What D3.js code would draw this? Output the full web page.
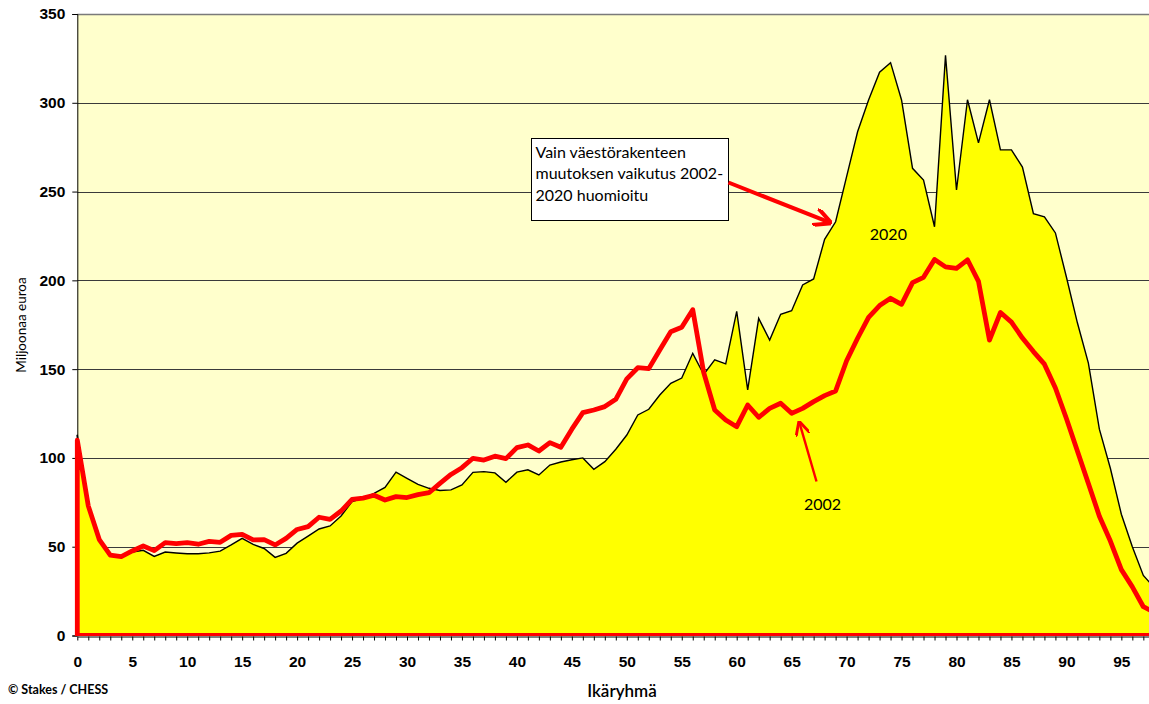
<!DOCTYPE html>
<html>
<head>
<meta charset="utf-8">
<script src="https://cdn.jsdelivr.net/npm/d3@7"></script>
<style>
	body { margin: 0; background: #fff; }
	svg { display: block; font-family: Lato, "Open Sans", sans-serif; }
	.axis text { font-size: 15.5px; font-weight: 700; fill: #000; }
	.axis path, .axis line { stroke: #000; }
</style>
</head>
<body>
<svg id="chart" width="1149" height="704"></svg>
<script>
// age groups (categories)
var ages = [0,1,2,3,4,5,6,7,8,9,10,11,12,13,14,15,16,17,18,19,20,21,22,23,24,25,26,27,28,29,
	30,31,32,33,34,35,36,37,38,39,40,41,42,43,44,45,46,47,48,49,50,51,52,53,54,55,56,57,58,59,
	60,61,62,63,64,65,66,67,68,69,70,71,72,73,74,75,76,77,78,79,80,81,82,83,84,85,86,87,88,89,
	90,91,92,93,94,95,96,97,98];

// 2020 (yellow area), million euro
var values2020 = [113,72,54,45,44,47,48,44.5,47,46.5,46,46,46.5,47.5,51,54.7,51.3,49,44,46.3,
	52,56,60,61.7,67.3,75.4,77.2,80,83.4,92,88.5,85.1,82.9,81.7,82,84.8,91.9,92.3,91.6,86.3,
	92,93.3,90.4,96,97.7,99,100,93.6,97.9,104.9,112.9,124.2,127.4,135.4,142,145,158.9,147,155.2,153,
	182.5,138.3,178.6,166.4,180.9,182.9,197.4,200.8,223.1,233,258.4,283.7,301.6,317.2,322.6,301.6,263.1,256.5,230.2,326.7,
	250.9,301.7,277.4,301.7,273.5,273.5,263.8,237.5,235.8,226.7,201.9,176.1,153.4,116.2,94.2,68.3,50,33.8,27];

// 2002 (red line), million euro
var values2002 = [110,73,54,45.3,44.4,47.6,50.4,47.8,52.3,51.8,52.3,51.4,53,52.5,56.4,57,53.8,54,51,54.7,
	59.7,61.3,66.6,65.4,70.1,76.7,77.4,79,76.3,78.2,77.7,79.3,80.4,85.7,90.7,94.5,99.8,98.8,101,99.6,
	105.8,107.3,103.9,108.6,106,116.2,125.5,127,128.9,133,144.5,150.8,150.3,160.8,171.1,173.6,183.5,148,127,121.4,
	117.6,129.8,122.9,127.9,130.8,125.1,127.9,131.7,135.1,137.7,154.7,167.4,179.2,185.8,189.9,186.5,198.7,201.7,211.8,207.6,
	206.7,211.6,199.4,166.4,181.9,176.5,167.5,159.9,152.8,139.4,122.2,103.9,85.6,67.2,53.2,37.1,27.4,16.2,13];

var yTicks = [0,50,100,150,200,250,300,350];

(function(){
	'use strict';

	var svg = d3.select("#chart");
	var m = {left: 77.3, top: 14, bottom: 635.5};

	// x: category axis, one step ~11px, last category runs past the picture edge
	var x = d3.scaleLinear().domain([0, 98]).range([m.left, m.left + 98 * 10.99]);
	var y = d3.scaleLinear().domain([0, 350]).range([m.bottom, m.top]);

	var data = ages.map(function(a, i){
		return {age: a, v2020: values2020[i], v2002: values2002[i]};
	});

	var defs = svg.append("defs");
	defs.append("clipPath").attr("id", "plotclip")
		.append("rect")
		.attr("x", m.left - 8).attr("y", m.top)
		.attr("width", 1200).attr("height", m.bottom - m.top + 0.5);

	defs.append("marker")
		.attr("id", "arrowhead")
		.attr("viewBox", "0 0 10 10")
		.attr("refX", 9).attr("refY", 5)
		.attr("markerWidth", 4.5).attr("markerHeight", 4.5)
		.attr("orient", "auto")
		.append("path")
		.attr("d", "M0,0 L10,5 L0,10")
		.attr("fill", "none")
		.attr("stroke", "#ff0000")
		.attr("stroke-width", 2.2);

	defs.append("marker")
		.attr("id", "arrowhead2")
		.attr("viewBox", "0 0 10 10")
		.attr("refX", 9).attr("refY", 5)
		.attr("markerWidth", 6).attr("markerHeight", 6)
		.attr("orient", "auto")
		.append("path")
		.attr("d", "M0,0 L10,5 L0,10")
		.attr("fill", "none")
		.attr("stroke", "#ff0000")
		.attr("stroke-width", 2);

	// plot background
	svg.append("rect")
		.attr("x", m.left).attr("y", m.top)
		.attr("width", 1200).attr("height", m.bottom - m.top)
		.attr("fill", "#ffffcc");

	// gridlines
	svg.append("g").selectAll("line")
		.data(yTicks.filter(function(d){ return d > 0; }))
	.enter().append("line")
		.attr("x1", m.left).attr("x2", 1200)
		.attr("y1", function(d){ return Math.round(y(d)) + 0.5; })
		.attr("y2", function(d){ return Math.round(y(d)) + 0.5; })
		.attr("stroke", function(d){ return d === 350 ? "#7a7a7a" : "#3a3a3a"; })
		.attr("stroke-width", function(d){ return d === 350 ? 1.5 : 1; });

	// 2020 area
	var area = d3.area()
		.x(function(d){ return x(d.age); })
		.y0(y(0))
		.y1(function(d){ return y(d.v2020); });
	svg.append("path")
		.datum(data)
		.attr("d", area)
		.attr("fill", "#ffff00")
		.attr("stroke", "none");
	svg.append("path")
		.datum(data)
		.attr("d", d3.line()
			.x(function(d){ return x(d.age); })
			.y(function(d){ return y(d.v2020); }))
		.attr("fill", "none")
		.attr("stroke", "#000")
		.attr("stroke-width", 1.4)
		.attr("stroke-linejoin", "miter");
	// left edge of the 2020 area
	svg.append("line")
		.attr("x1", x(0)).attr("x2", x(0))
		.attr("y1", y(0)).attr("y2", y(values2020[0]))
		.attr("stroke", "#000").attr("stroke-width", 1.4);

	// y axis
	var yAxis = d3.axisLeft(y)
		.tickValues(yTicks)
		.tickSize(5)
		.tickPadding(7)
		.tickFormat(d3.format("d"));
	svg.append("g")
		.attr("class", "axis axis--y")
		.attr("transform", "translate(" + m.left + ",0)")
		.call(yAxis);

	// 2002 outline (area border with no fill)
	var outline = [{age: ages[0], v2002: 0}].concat(data, [{age: ages[ages.length - 1], v2002: 0}]);
	svg.append("path")
		.datum(outline)
		.attr("clip-path", "url(#plotclip)")
		.attr("d", function(d){
			return d3.line()
				.x(function(p){ return x(p.age); })
				.y(function(p){ return y(p.v2002); })(d) + "Z";
		})
		.attr("fill", "none")
		.attr("stroke", "#ff0000")
		.attr("stroke-width", 4.8)
		.attr("stroke-linejoin", "round");

	// x axis
	var xAxis = d3.axisBottom(x)
		.tickValues(ages)
		.tickSizeInner(4)
		.tickSizeOuter(0)
		.tickPadding(15)
		.tickFormat(function(d){ return d % 5 === 0 ? d : ""; });
	svg.append("g")
		.attr("class", "axis axis--x")
		.attr("transform", "translate(0," + (m.bottom + 1) + ")")
		.call(xAxis);

	// annotation box
	var box = svg.append("g").attr("transform", "translate(531.5,138.5)");
	box.append("rect")
		.attr("width", 197).attr("height", 82)
		.attr("fill", "#fff").attr("stroke", "#000").attr("stroke-width", 1);
	var lines = ["Vain väestörakenteen", "muutoksen vaikutus 2002-", "2020 huomioitu"];
	box.selectAll("text.note")
		.data(lines)
	.enter().append("text")
		.attr("class", "note")
		.attr("x", 4)
		.attr("y", function(d, i){ return 19 + i * 21.7; })
		.attr("font-size", "16px")
		.text(function(d){ return d; });

	// arrow from box to the 2020 area
	svg.append("line")
		.attr("x1", 728.5).attr("y1", 182.5)
		.attr("x2", x(68.5)).attr("y2", y(232.5))
		.attr("stroke", "#ff0000").attr("stroke-width", 4)
		.attr("marker-end", "url(#arrowhead)");

	svg.append("text")
		.attr("x", x(73.8)).attr("y", 240)
		.attr("text-anchor", "middle")
		.attr("font-size", "16px")
		.text("2020");

	// arrow to the 2002 line
	svg.append("line")
		.attr("x1", 816.5).attr("y1", 481.5)
		.attr("x2", x(65.7)).attr("y2", y(120))
		.attr("stroke", "#ff0000").attr("stroke-width", 2.4)
		.attr("marker-end", "url(#arrowhead2)");

	svg.append("text")
		.attr("x", 822.5).attr("y", 510)
		.attr("text-anchor", "middle")
		.attr("font-size", "16px")
		.text("2002");

	// titles
	svg.append("text")
		.attr("x", 622).attr("y", 697)
		.attr("text-anchor", "middle")
		.attr("font-size", "17px")
		.attr("font-weight", 600)
		.text("Ikäryhmä");

	svg.append("text")
		.attr("transform", "translate(26,325) rotate(-90)")
		.attr("text-anchor", "middle")
		.attr("font-size", "13.5px")
		.text("Miljoonaa euroa");

	svg.append("text")
		.attr("x", 8).attr("y", 694)
		.attr("font-size", "12.5px")
		.attr("font-weight", 700)
		.text("© Stakes / CHESS");
}());
</script>
</body>
</html>
